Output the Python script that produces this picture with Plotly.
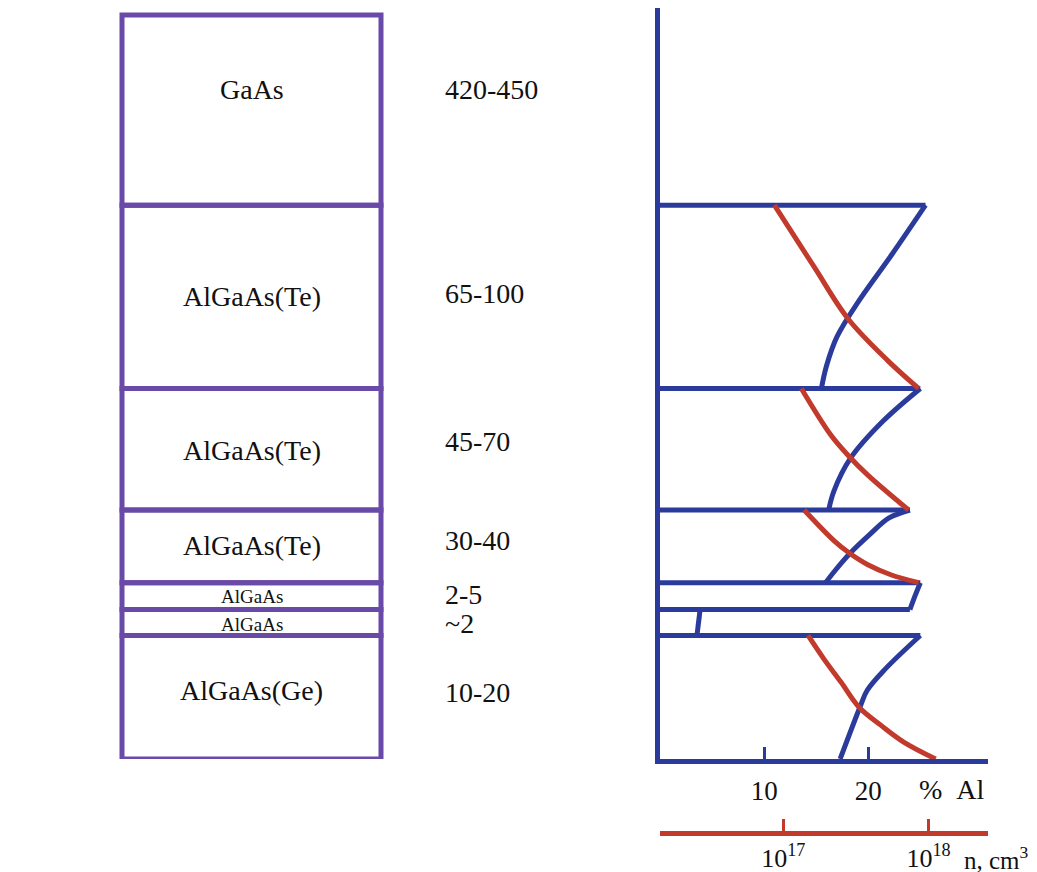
import plotly.graph_objects as go

# ---------------------------------------------------------------- data
# Layer stack, top to bottom
layer_names = ["GaAs", "AlGaAs(Te)", "AlGaAs(Te)", "AlGaAs(Te)", "AlGaAs", "AlGaAs", "AlGaAs(Ge)"]
layer_thickness = ["420-450", "65-100", "45-70", "30-40", "2-5", "~2", "10-20"]
# Layer boundaries (schematic height above the substrate side), top to bottom
layer_bounds = [747, 556, 372, 250, 177, 150, 124, 0]

# Al content at each internal interface (%), top to bottom
interface_y = [556, 372, 250, 177, 150, 124]
interface_al = [25.5, 25.0, 24.0, 25.0, 24.0, 25.0]

# Al content profiles inside each layer (%)
al_te1_y = [556, 507, 460, 424, 395, 372]
al_te1 = [25.5, 22.3, 19.1, 17.0, 16.0, 15.5]
al_te2_y = [372, 339, 302, 269, 250]
al_te2 = [25.0, 21.4, 18.3, 16.7, 16.2]
al_te3_y = [250, 242, 225, 207, 189, 177]
al_te3 = [24.0, 22.0, 20.1, 18.3, 16.8, 15.9]
al_thin1_y = [177, 164, 150]
al_thin1 = [25.0, 24.5, 24.0]
al_thin2_y = [150, 124]
al_thin2 = [3.85, 3.55]
al_ge_y = [124, 90, 69, 52, 0]
al_ge = [25.0, 21.6, 19.9, 19.2, 17.3]

# Carrier concentration profiles (cm^-3)
n_te1_y = [556, 494, 442, 400, 372]
n_te1 = [8.67e16, 1.63e17, 2.79e17, 5.24e17, 8.55e17]
n_te2_y = [372, 325, 304, 285, 250]
n_te2 = [1.33e17, 2.13e17, 2.83e17, 3.82e17, 7.29e17]
n_te3_y = [250, 219, 207, 195, 185, 177]
n_te3 = [1.39e17, 2.24e17, 2.83e17, 3.82e17, 5.5e17, 8.55e17]
n_ge_y = [124, 100, 77, 52, 34, 17, 0]
n_ge = [1.48e17, 1.91e17, 2.5e17, 3.32e17, 4.69e17, 6.75e17, 1.12e18]

al_ticks = [10, 20]
n_ticks = [1e17, 1e18]
n_tick_text = ["10<sup>17</sup>", "10<sup>18</sup>"]

# ---------------------------------------------------------------- style
W, H = 1037, 872
BLUE = "#2b3b9c"
RED = "#c23a2c"
PURPLE = "#6a4aa8"
INK = "#111111"
FONT = "Liberation Serif"
LW = 5


def px_x(p):
    return p / W


def px_y(p):
    return (H - p) / H


fig = go.Figure()

# Al profiles (blue): interface steps, then the graded profile of each layer
for yv, av in zip(interface_y, interface_al):
    fig.add_trace(go.Scatter(
        x=[0, av], y=[yv, yv],
        mode="lines", line=dict(color=BLUE, width=LW), hoverinfo="skip",
        showlegend=False, xaxis="x", yaxis="y"))

for ys, vals in [(al_te1_y, al_te1), (al_te2_y, al_te2), (al_te3_y, al_te3),
                 (al_thin1_y, al_thin1), (al_thin2_y, al_thin2), (al_ge_y, al_ge)]:
    fig.add_trace(go.Scatter(
        x=vals, y=ys, mode="lines",
        line=dict(color=BLUE, width=LW, shape="spline", smoothing=1.0),
        hoverinfo="skip", showlegend=False, xaxis="x", yaxis="y"))

# Concentration profiles (red, log axis)
for ys, vals in [(n_te1_y, n_te1), (n_te2_y, n_te2), (n_te3_y, n_te3), (n_ge_y, n_ge)]:
    fig.add_trace(go.Scatter(
        x=vals, y=ys, mode="lines",
        line=dict(color=RED, width=LW, shape="spline", smoothing=1.0),
        hoverinfo="skip", showlegend=False, xaxis="x2", yaxis="y"))

# Layer boxes on the left
box_x0, box_x1 = px_x(122), px_x(381)
for i in range(len(layer_names)):
    fig.add_shape(type="rect", xref="paper", yref="y",
                  x0=box_x0, x1=box_x1, y0=layer_bounds[i + 1], y1=layer_bounds[i],
                  line=dict(color=PURPLE, width=LW), fillcolor="rgba(0,0,0,0)")

# Layer labels
name_y = [672, 464, 310, 214, 163, 135, 69]
name_size = [28, 28, 28, 28, 19, 19, 28]
thick_y = [672, 467, 319, 219, 165, 136, 67]
for i, name in enumerate(layer_names):
    fig.add_annotation(x=(box_x0 + box_x1) / 2, y=name_y[i], xref="paper", yref="y",
                       text=name, showarrow=False, xanchor="center", yanchor="middle",
                       font=dict(family=FONT, size=name_size[i], color=INK))
    fig.add_annotation(x=px_x(443), y=thick_y[i], xref="paper", yref="y",
                       text=layer_thickness[i], showarrow=False, xanchor="left",
                       yanchor="middle", font=dict(family=FONT, size=28, color=INK))

# Axis captions
fig.add_annotation(x=px_x(917), y=px_y(789), xref="paper", yref="paper",
                   text="%&nbsp;&nbsp;Al", showarrow=False, xanchor="left", yanchor="middle",
                   font=dict(family=FONT, size=28, color=INK))
fig.add_annotation(x=px_x(962), y=px_y(858), xref="paper", yref="paper",
                   text="n, cm<sup>3</sup>", showarrow=False, xanchor="left", yanchor="middle",
                   font=dict(family=FONT, size=25, color=INK))

x_dom = [px_x(660), px_x(988)]
fig.update_layout(
    width=W, height=H,
    margin=dict(l=0, r=0, t=0, b=0),
    paper_bgcolor="white", plot_bgcolor="white",
    showlegend=False,
    xaxis=dict(domain=x_dom, range=[0, 31.5], anchor="y",
               showline=True, linecolor=BLUE, linewidth=LW,
               showgrid=False, zeroline=False,
               ticks="inside", tickvals=al_ticks, ticklen=12, tickwidth=3,
               tickcolor=BLUE, ticklabelstandoff=4,
               tickfont=dict(family=FONT, size=27, color=INK)),
    xaxis2=dict(overlaying="x", type="log", anchor="free", position=px_y(833),
                range=[16.15, 18.41], side="bottom",
                showline=True, linecolor=RED, linewidth=LW,
                showgrid=False, zeroline=False,
                ticks="inside", tickvals=n_ticks, ticktext=n_tick_text,
                ticklen=12, tickwidth=3, tickcolor=RED,
                tickfont=dict(family=FONT, size=26, color=INK)),
    yaxis=dict(domain=[px_y(759), px_y(8)], range=[0, 754], anchor="x",
               showline=True, linecolor=BLUE, linewidth=LW,
               showgrid=False, zeroline=False, showticklabels=False, ticks=""),
)

fig.write_html("out.html")
